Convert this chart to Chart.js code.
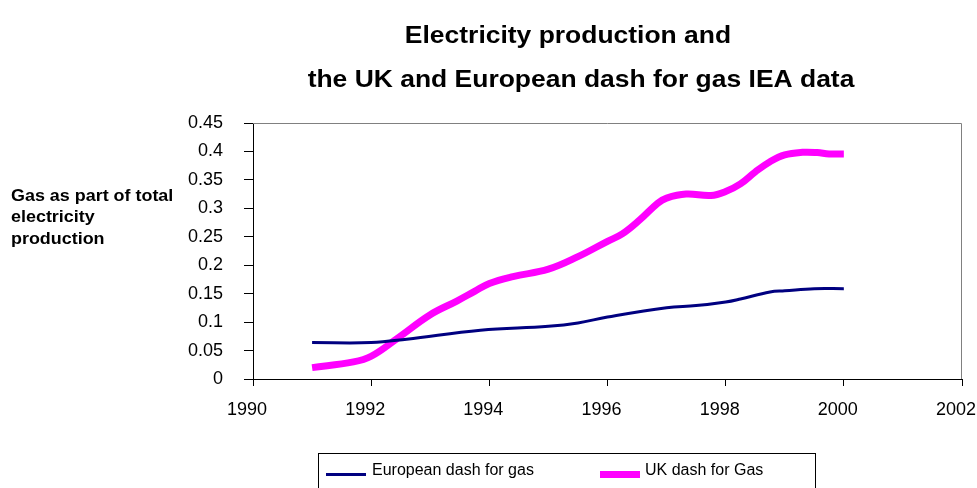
<!DOCTYPE html>
<html>
<head>
<meta charset="utf-8">
<script src="https://cdn.jsdelivr.net/npm/chart.js@4.4.1/dist/chart.umd.min.js"></script>
<style>
  html, body { margin: 0; padding: 0; background: #ffffff; }
  #wrap { width: 977px; height: 488px; position: relative; }
</style>
</head>
<body>
<div id="wrap"><canvas id="c" width="977" height="488"></canvas></div>
<script>
// ---- Data ----
const titleLines = ["Electricity production and", "the UK and European dash for gas IEA data"];
const yAxisTitle = ["Gas as part of total", "electricity", "production"];
const seriesNames = ["European dash for gas", "UK dash for Gas"];

const xEU = [1991.0, 1992.0, 1992.6, 1993.85, 1995.0, 1995.5, 1996.0, 1997.0, 1997.5, 1998.0, 1998.25, 1998.75, 1999.0, 1999.5, 2000.0];
const yEU = [0.064, 0.064, 0.070, 0.0857, 0.0926, 0.0985, 0.109, 0.1254, 0.129, 0.1354, 0.1407, 0.153, 0.155, 0.1588, 0.1588];

const xUK = [1991.0, 1991.7, 1992.0, 1992.45, 1993.0, 1993.45, 1993.75, 1994.0, 1994.4, 1995.0, 1995.5, 1996.0, 1996.25, 1996.55, 1996.85, 1997.0, 1997.33, 1997.75, 1998.0, 1998.25, 1998.5, 1998.75, 1999.0, 1999.3, 1999.55, 1999.75, 2000.0];
const yUK = [0.020, 0.030, 0.040, 0.072, 0.113, 0.137, 0.154, 0.168, 0.180, 0.193, 0.215, 0.242, 0.255, 0.280, 0.309, 0.318, 0.325, 0.3225, 0.3295, 0.343, 0.364, 0.382, 0.394, 0.3985, 0.398, 0.3956, 0.3956];

const xTicks = { min: 1990, max: 2002, step: 2 };
const yTicks = { min: 0, max: 0.45, step: 0.05 };

const FONT = "'Liberation Sans', Arial, sans-serif";

function pts(xs, ys) { return xs.map((x, i) => ({ x: x, y: ys[i] })); }

function stretchedText(ctx, text, x, y, sx) {
  ctx.save();
  ctx.translate(x, y);
  ctx.scale(sx, 1);
  ctx.fillText(text, 0, 0);
  ctx.restore();
}

const decorPlugin = {
  id: 'decor',
  beforeDatasetsDraw(chart) {
    const ctx = chart.ctx, a = chart.chartArea;
    ctx.save();
    ctx.strokeStyle = '#808080';
    ctx.lineWidth = 1;
    ctx.beginPath();
    ctx.moveTo(a.left, a.top + 0.5);
    ctx.lineTo(a.right - 0.5, a.top + 0.5);
    ctx.lineTo(a.right - 0.5, a.bottom);
    ctx.stroke();
    ctx.restore();
  },
  afterDraw(chart) {
    const ctx = chart.ctx;
    ctx.save();
    ctx.fillStyle = '#000';
    ctx.textBaseline = 'alphabetic';
    // Title
    ctx.font = "bold 23px " + FONT;
    ctx.textAlign = 'center';
    stretchedText(ctx, titleLines[0], 568, 43, 1.15);
    stretchedText(ctx, titleLines[1], 581, 87, 1.15);
    // Y axis title (horizontal, left)
    ctx.font = "bold 16px " + FONT;
    ctx.textAlign = 'left';
    const yb = [201, 222, 244];
    yAxisTitle.forEach((t, i) => stretchedText(ctx, t, 11, yb[i], 1.12));
    // Legend box
    ctx.strokeStyle = '#000';
    ctx.lineWidth = 1;
    ctx.strokeRect(318.5, 453.5, 497, 40);
    const ds = chart.data.datasets;
    const items = [{ x0: 326, tx: 372 }, { x0: 600, tx: 645 }];
    ctx.font = "16px " + FONT;
    items.forEach((it, i) => {
      ctx.strokeStyle = ds[i].borderColor;
      ctx.lineWidth = ds[i].borderWidth;
      ctx.beginPath();
      ctx.moveTo(it.x0, 474.5);
      ctx.lineTo(it.x0 + 40, 474.5);
      ctx.stroke();
      ctx.fillStyle = '#000';
      ctx.fillText(ds[i].label, it.tx, 475);
    });
    ctx.restore();
  }
};

new Chart(document.getElementById('c'), {
  type: 'line',
  data: {
    datasets: [
      {
        label: seriesNames[0],
        data: pts(xEU, yEU),
        borderColor: '#000080',
        borderWidth: 3,
        pointRadius: 0,
        tension: 0.4,
        fill: false,
        borderJoinStyle: 'round'
      },
      {
        label: seriesNames[1],
        data: pts(xUK, yUK),
        borderColor: '#FF00FF',
        borderWidth: 7,
        pointRadius: 0,
        tension: 0.4,
        fill: false,
        borderJoinStyle: 'round'
      }
    ]
  },
  options: {
    responsive: false,
    animation: false,
    layout: { autoPadding: false, padding: { top: 123, right: 15, left: 0, bottom: 0 } },
    plugins: {
      legend: { display: false },
      title: { display: false },
      tooltip: { enabled: false }
    },
    scales: {
      x: {
        type: 'linear',
        min: xTicks.min,
        max: xTicks.max,
        afterFit: (s) => { s.height = 109; s.paddingLeft = 0; s.paddingRight = 0; },
        afterBuildTicks: (s) => {
          const t = [];
          for (let v = xTicks.min; v <= xTicks.max; v += xTicks.step) t.push({ value: v });
          s.ticks = t;
        },
        ticks: {
          callback: (v) => String(v),
          color: '#000',
          font: { family: FONT, size: 18 },
          padding: 13,
          labelOffset: -6,
          maxRotation: 0,
          autoSkip: false
        },
        grid: { display: true, drawOnChartArea: false, drawTicks: true, tickLength: 7, color: '#000' },
        border: { display: true, color: '#000', width: 1 }
      },
      y: {
        type: 'linear',
        min: yTicks.min,
        max: yTicks.max,
        afterFit: (s) => { s.width = 253; s.paddingTop = 0; s.paddingBottom = 0; },
        afterBuildTicks: (s) => {
          const t = [];
          for (let i = 0; i <= Math.round((yTicks.max - yTicks.min) / yTicks.step); i++) t.push({ value: +(yTicks.min + i * yTicks.step).toFixed(2) });
          s.ticks = t;
        },
        ticks: {
          callback: (v) => String(+v.toFixed(2)),
          color: '#000',
          font: { family: FONT, size: 18 },
          padding: 21,
          autoSkip: false
        },
        grid: { display: true, drawOnChartArea: false, drawTicks: true, tickLength: 9, color: '#000' },
        border: { display: true, color: '#000', width: 1 }
      }
    }
  },
  plugins: [decorPlugin]
});
</script>
</body>
</html>
